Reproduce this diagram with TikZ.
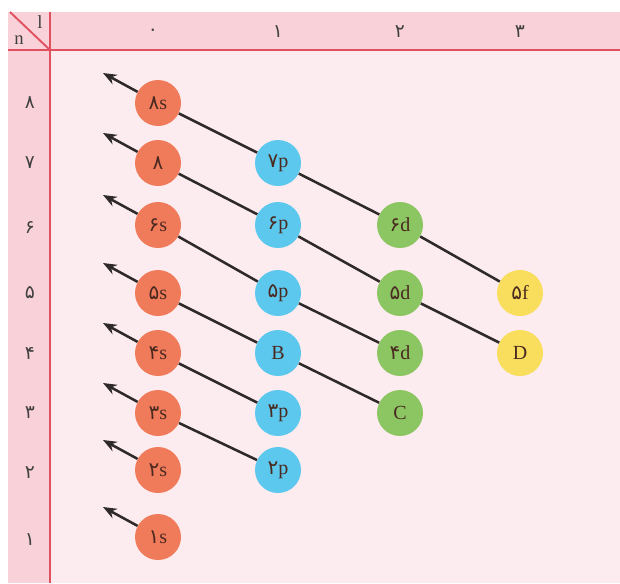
\documentclass[tikz,border=0pt]{standalone}
\usepackage{fontspec}
\setmainfont{Liberation Serif}
\newfontfamily\fadigits[Script=Arabic]{DejaVu Sans}
\newcommand{\fa}[1]{{\fadigits #1}}
\usetikzlibrary{arrows.meta, calc}
\definecolor{sorange}{HTML}{F07B5B}
\definecolor{pblue}{HTML}{5CC8EE}
\definecolor{dgreen}{HTML}{8CC663}
\definecolor{fyellow}{HTML}{F8DE5C}
\definecolor{bodypink}{HTML}{FDECEF}
\definecolor{headpink}{HTML}{F9D2D9}
\definecolor{gridred}{HTML}{E0505F}
\definecolor{dkline}{HTML}{2E2A2A}
\definecolor{dktext}{HTML}{4A2A20}

\begin{document}
\begin{tikzpicture}[
  x=0.75pt, y=-0.75pt,
  >={Stealth[length=3.6mm, width=2.8mm]},
  orb/.style={
    circle, fill=#1, minimum size=34.5pt, inner sep=0pt,
    font=\fontsize{15}{17}\selectfont, text=dktext
  },
  axislabel/.style={font=\fontsize{14}{16}\selectfont, text=black!75},
  arr/.style={->, line width=1.9pt, dkline},
  gridline/.style={line width=1.4pt, gridred},
]

\useasboundingbox (0,0) rectangle (620,583);

% Background
\fill[white] (0,0) rectangle (620,583);
\fill[bodypink] (8,12) rectangle (620,583);
\fill[headpink] (8,12) rectangle (620,50);
\fill[headpink] (8,12) rectangle (50,583);
\draw[gridline] (8,50) -- (620,50);
\draw[gridline] (50,12) -- (50,583);
\draw[gridline] (10,12) -- (50,50);

% Corner labels
\node[axislabel] (nlab) at (19,40) {n};
\node[axislabel] (llab) at (40,22) {l};

% =============================================
% Axis labels
% =============================================
\node[axislabel] (l0) at (153,32) {\fa{۰}};
\node[axislabel] (l1) at (278,32) {\fa{۱}};
\node[axislabel] (l2) at (400,32) {\fa{۲}};
\node[axislabel] (l3) at (520,32) {\fa{۳}};

\node[axislabel] (n8) at (30,103) {\fa{۸}};
\node[axislabel] (n7) at (30,163) {\fa{۷}};
\node[axislabel] (n6) at (30,228) {\fa{۶}};
\node[axislabel] (n5) at (30,293) {\fa{۵}};
\node[axislabel] (n4) at (30,353) {\fa{۴}};
\node[axislabel] (n3) at (30,413) {\fa{۳}};
\node[axislabel] (n2) at (30,473) {\fa{۲}};
\node[axislabel] (n1) at (30,540) {\fa{۱}};

% =============================================
% Orbitals
% =============================================
\node[orb=sorange] (c8s) at (158,103) {\fa{۸}s};
\node[orb=sorange] (c7s) at (158,163) {\fa{۸}};
\node[orb=sorange] (c6s) at (158,225) {\fa{۶}s};
\node[orb=sorange] (c5s) at (158,293) {\fa{۵}s};
\node[orb=sorange] (c4s) at (158,353) {\fa{۴}s};
\node[orb=sorange] (c3s) at (158,413) {\fa{۳}s};
\node[orb=sorange] (c2s) at (158,470) {\fa{۲}s};
\node[orb=sorange] (c1s) at (158,537) {\fa{۱}s};

\node[orb=pblue] (c7p) at (278,163) {\fa{۷}p};
\node[orb=pblue] (c6p) at (278,225) {\fa{۶}p};
\node[orb=pblue] (c5p) at (278,293) {\fa{۵}p};
\node[orb=pblue] (c4p) at (278,353) {B};
\node[orb=pblue] (c3p) at (278,413) {\fa{۳}p};
\node[orb=pblue] (c2p) at (278,470) {\fa{۲}p};

\node[orb=dgreen] (c6d) at (400,225) {\fa{۶}d};
\node[orb=dgreen] (c5d) at (400,293) {\fa{۵}d};
\node[orb=dgreen] (c4d) at (400,353) {\fa{۴}d};
\node[orb=dgreen] (c3d) at (400,413) {C};

\node[orb=fyellow] (c5f) at (520,293) {\fa{۵}f};
\node[orb=fyellow] (c4f) at (520,353) {D};

% =============================================
% Filling order arrows
% =============================================
\foreach \n in {8,7,6,5,4,3,2,1}
  \coordinate (t\n) at ($(c\n s)+(-55,-30)$);

\draw[arr] (c1s) -- (t1);
\draw[arr] (c2s) -- (t2);
\draw[arr] (c2p) -- (c3s) -- (t3);
\draw[arr] (c3p) -- (c4s) -- (t4);
\draw[arr] (c3d) -- (c4p) -- (c5s) -- (t5);
\draw[arr] (c4d) -- (c5p) -- (c6s) -- (t6);
\draw[arr] (c4f) -- (c5d) -- (c6p) -- (c7s) -- (t7);
\draw[arr] (c5f) -- (c6d) -- (c7p) -- (c8s) -- (t8);

\end{tikzpicture}
\end{document}
